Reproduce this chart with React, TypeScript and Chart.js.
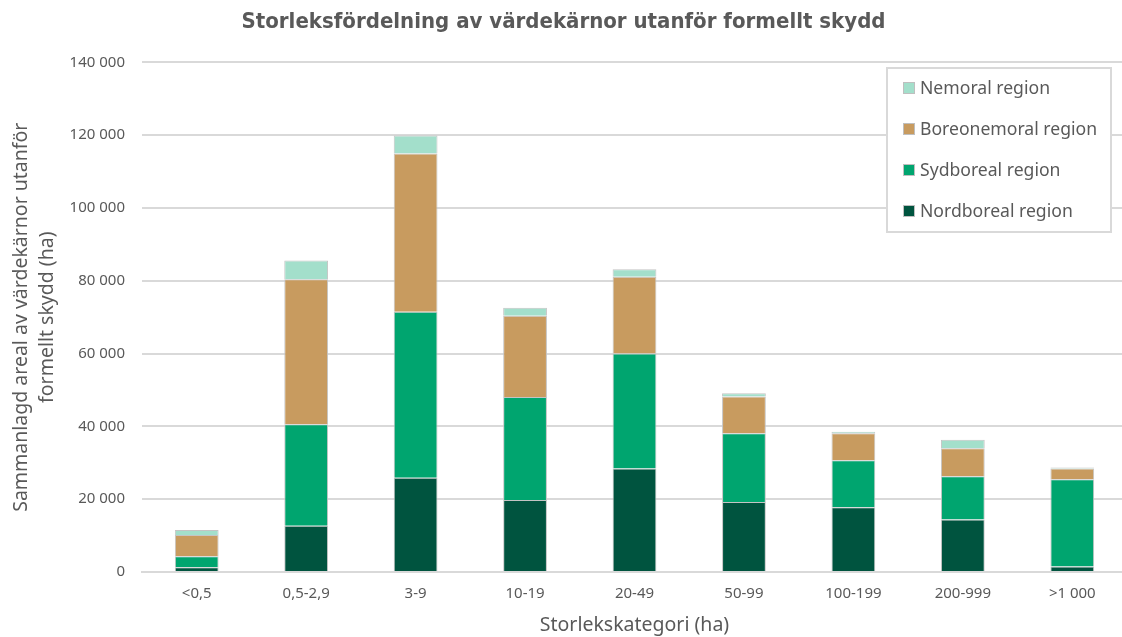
import React, { useEffect, useRef } from "react";
import { Chart, registerables } from "chart.js";

Chart.register(...registerables);

const categories = ["<0,5", "0,5-2,9", "3-9", "10-19", "20-49", "50-99", "100-199", "200-999", ">1 000"];
const nordboreal = [1300, 12700, 25900, 19800, 28400, 19200, 17800, 14400, 1500];
const sydboreal = [3000, 27900, 45600, 28300, 31600, 18900, 12900, 11900, 24000];
const boreonemoral = [5850, 39800, 43500, 22300, 21100, 10100, 7400, 7700, 2900];
const nemoral = [1400, 5200, 4900, 2200, 2100, 900, 400, 2300, 300];

const titleText = "Storleksfördelning av värdekärnor utanför formellt skydd";
const xTitle = "Storlekskategori (ha)";
const yTitle = ["Sammanlagd areal av värdekärnor utanför", "formellt skydd (ha)"];

const TEXT = "#595959";
const FONT = "'Noto Sans', 'Open Sans', sans-serif";

const fmt = (v: number) => String(v).replace(/\B(?=(\d{3})+(?!\d))/g, " ");

const legendPlugin = {
  id: "boxLegend",
  afterDraw(chart: any) {
    const ctx = chart.ctx;
    const ds = chart.data.datasets.slice().reverse();
    ctx.save();
    ctx.fillStyle = "#ffffff";
    ctx.fillRect(887, 68, 224, 164);
    ctx.strokeStyle = "#d9d9d9";
    ctx.lineWidth = 2;
    ctx.strokeRect(887, 68, 224, 164);
    ctx.font = `17.6px ${FONT}`;
    ctx.textBaseline = "middle";
    ds.forEach((d: any, i: number) => {
      const cy = 88 + i * 41;
      ctx.fillStyle = d.backgroundColor;
      ctx.fillRect(903, cy - 6, 12, 12);
      ctx.strokeStyle = "#bfbfbf";
      ctx.lineWidth = 1;
      ctx.strokeRect(903.5, cy - 5.5, 11, 11);
      ctx.fillStyle = TEXT;
      ctx.fillText(d.label, 920, cy + 1);
    });
    ctx.restore();
  },
};

export default function App() {
  const ref = useRef<HTMLCanvasElement | null>(null);
  useEffect(() => {
    if (!ref.current) return;
    const mk = (label: string, data: number[], color: string) => ({
      label,
      data,
      backgroundColor: color,
      borderColor: "#c4c4c4",
      borderWidth: 1,
      categoryPercentage: 1,
      barPercentage: 0.4,
    });
    const chart = new Chart(ref.current, {
      type: "bar",
      data: {
        labels: categories,
        datasets: [
          mk("Nordboreal region", nordboreal, "#00543f"),
          mk("Sydboreal region", sydboreal, "#00a56f"),
          mk("Boreonemoral region", boreonemoral, "#c89b5f"),
          mk("Nemoral region", nemoral, "#a3dfcb"),
        ],
      },
      options: {
        responsive: false,
        animation: false,
        layout: { padding: { left: 0, right: 1, top: 0, bottom: 0 } },
        plugins: {
          legend: { display: false },
          tooltip: { enabled: false },
          title: {
            display: true,
            text: titleText,
            color: TEXT,
            font: { family: "'DejaVu Sans Condensed', 'Liberation Sans Narrow', sans-serif", size: 22, weight: "bold" },
            padding: { top: 9, bottom: 27 },
          },
        },
        scales: {
          x: {
            stacked: true,
            grid: { display: false, drawTicks: false },
            border: { display: true, color: "#d9d9d9", width: 2 },
            ticks: { color: TEXT, font: { family: FONT, size: 15 }, padding: 13 },
            title: { display: true, text: xTitle, color: TEXT, font: { family: FONT, size: 19.5 }, padding: { top: 3, bottom: 0 } },
            afterFit(scale: any) { scale.height = 65; },
          },
          y: {
            stacked: true,
            min: 0,
            max: 140000,
            grid: { color: "#d9d9d9", lineWidth: 2, drawTicks: false },
            border: { display: false },
            ticks: { stepSize: 20000, color: TEXT, font: { family: FONT, size: 15 }, padding: 17, callback: (v: any) => fmt(v) },
            title: { display: true, text: yTitle, color: TEXT, font: { family: FONT, size: 19.5, lineHeight: 1.35 }, padding: { top: 8, bottom: 4 } },
            afterFit(scale: any) { scale.width = 142; },
          },
        },
      },
      plugins: [legendPlugin],
    });
    return () => chart.destroy();
  }, []);
  return (
    <div style={{ position: "fixed", left: 0, top: 0, width: 1122, height: 637, overflow: "hidden", background: "#fff" }}>
      <canvas ref={ref} width={1128} height={637} style={{ display: "block" }} />
    </div>
  );
}
